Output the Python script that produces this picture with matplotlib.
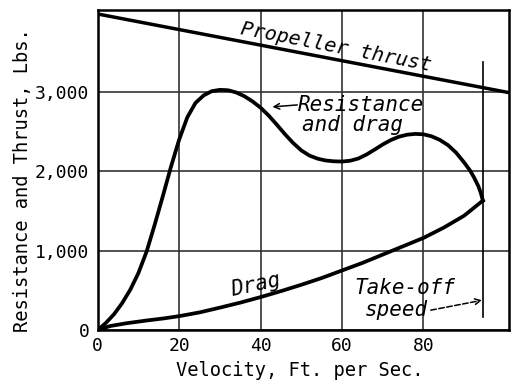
import matplotlib
matplotlib.use("Agg")
import matplotlib.pyplot as plt

# values
velocity_res = [0, 2, 4, 6, 8, 10, 12, 14, 16, 18, 20, 22, 24, 26, 28, 30, 32,
                34, 36, 38, 40, 42, 44, 46, 48, 50, 52, 54, 56, 58, 60, 62, 64,
                66, 68, 70, 72, 74, 76, 78, 80, 82, 84, 86, 88, 90, 91.5, 92.5,
                93.5, 94.1, 94.6]
resistance = [0, 90, 200, 340, 510, 720, 990, 1330, 1690, 2060, 2400, 2680,
              2860, 2955, 3008, 3025, 3020, 2992, 2945, 2880, 2800, 2700, 2585,
              2465, 2355, 2262, 2197, 2158, 2135, 2125, 2122, 2132, 2160, 2210,
              2272, 2337, 2393, 2435, 2460, 2470, 2465, 2440, 2395, 2330, 2235,
              2110, 2005, 1915, 1810, 1725, 1630]

velocity_drag = [0, 3, 7, 12, 16, 20, 25, 30, 35, 40, 45, 50, 55, 60, 65, 70,
                 75, 80, 85, 90, 94.6]
drag = [0, 50, 85, 120, 145, 175, 222, 282, 345, 415, 490, 570, 655, 750, 845,
        950, 1055, 1160, 1290, 1440, 1630]

velocity_thrust = [0, 101]
thrust = [3980, 2990]

takeoff_speed = 94.7
x_ticks = [0, 20, 40, 60, 80]
y_ticks = [0, 1000, 2000, 3000]
y_tick_labels = ["0", "1,000", "2,000", "3,000"]

plt.rcParams["font.family"] = ["DejaVu Sans Mono", "DejaVu Sans"]

fig = plt.figure(figsize=(5.12, 3.86), dpi=100)
ax = fig.add_axes([0.191, 0.145, 0.803, 0.829])

ax.plot(velocity_thrust, thrust, color="black", lw=2.5, solid_capstyle="butt")
ax.plot(velocity_res, resistance, color="black", lw=2.7)
ax.plot(velocity_drag, drag, color="black", lw=2.7)
ax.plot([takeoff_speed, takeoff_speed], [165, 3375], color="black", lw=1.2)

ax.set_xlim(0, 101)
ax.set_ylim(0, 4030)
ax.set_xticks(x_ticks)
ax.set_yticks(y_ticks)
ax.set_yticklabels(y_tick_labels)
ax.tick_params(length=0, labelsize=13)
ax.tick_params(axis="x", pad=5)
ax.tick_params(axis="y", pad=6)
ax.grid(True, color="#333333", lw=1.2)
for s in ax.spines.values():
    s.set_linewidth(1.8)

fig.text(0.043, 0.534, "Resistance and Thrust, Lbs.", fontsize=13.5,
         rotation=90, ha="center", va="center")
fig.text(0.586, 0.041, "Velocity, Ft. per Sec.", fontsize=13.5,
         ha="center", va="center")

note = dict(fontsize=15, style="italic", ha="center", va="center")
ax.text(58.5, 3565, "Propeller thrust", rotation=-11,
        **{**note, "fontsize": 14.5})
ax.text(64.7, 2835, "Resistance", **note)
ax.text(62.5, 2580, "and drag", **note)
ax.annotate("", xy=(42.9, 2810), xytext=(49.0, 2835),
            arrowprops=dict(arrowstyle="->", lw=1.1, shrinkA=0, shrinkB=0))
ax.text(38.7, 565, "Drag", rotation=12, **note)
ax.text(75.5, 525, "Take-off", **note)
ax.text(73.3, 250, "speed", **note)
ax.annotate("", xy=(94.4, 375), xytext=(81.8, 250),
            arrowprops=dict(arrowstyle="->", lw=1.1, linestyle="--",
                            shrinkA=0, shrinkB=0))

fig.savefig("out.png", dpi=100)
